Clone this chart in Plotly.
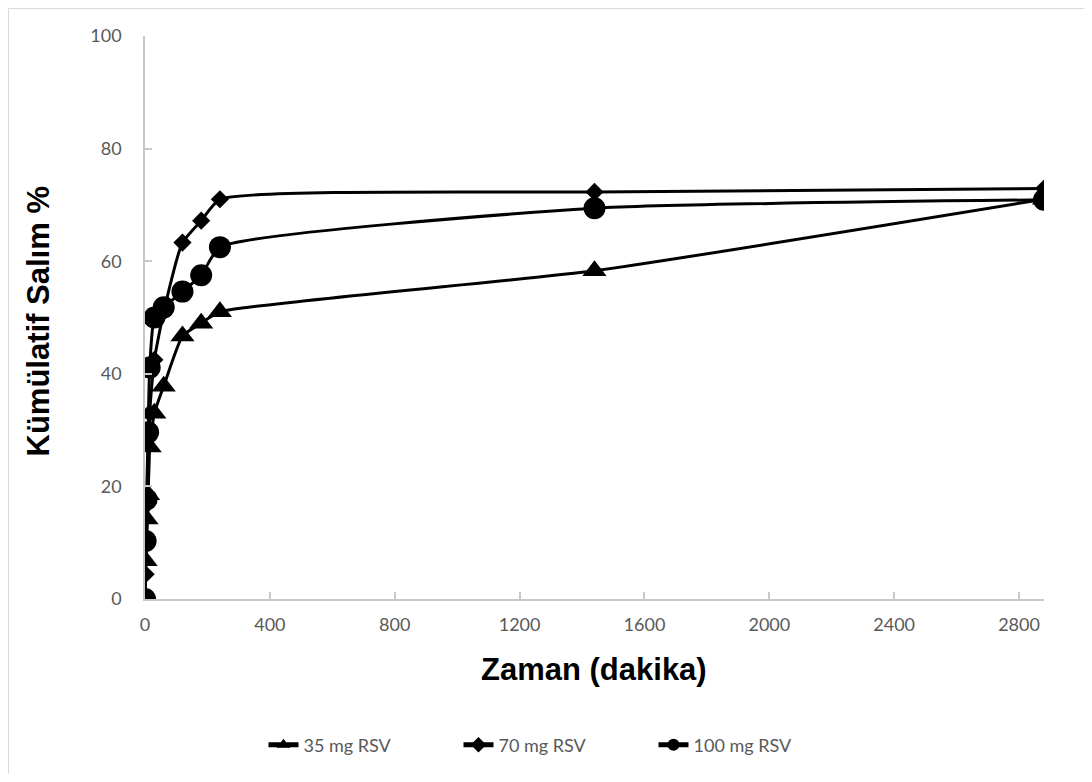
import plotly.graph_objects as go

# Time points (minutes)
time_min = [0, 2, 5, 10, 15, 30, 60, 120, 180, 240, 1440, 2880]

# Cumulative release %
rsv_35 = [0, 6.8, 14.2, 18.5, 27.0, 33.0, 37.8, 46.7, 49.0, 51.0, 58.3, 71.0]
rsv_70 = [0, 4.4, 10.0, 17.0, 33.0, 42.5, 51.0, 63.3, 67.2, 71.0, 72.3, 72.9]
rsv_100 = [0, 10.3, 17.7, 29.6, 41.1, 50.0, 51.8, 54.6, 57.5, 62.5, 69.4, 70.9]

series_names = ["35 mg RSV", "70 mg RSV", "100 mg RSV"]

x_ticks = [0, 400, 800, 1200, 1600, 2000, 2400, 2800]
y_ticks = [0, 20, 40, 60, 80, 100]

OFF = 8  # page body margin
W, H = 1092 - 2 * OFF, 782 - 2 * OFF
L, T = 145 - OFF, 36 - OFF
pw, ph = 899, 564
R, B = W - L - pw, H - T - ph

def px_x(p):
    return (p - OFF - L) / pw

def px_y(p):
    return (T + ph - (p - OFF)) / ph

fig = go.Figure()
styles = [("triangle-up", 21), ("diamond", 14), ("circle", 22)]
for name, vals, (sym, sz) in zip(series_names, [rsv_35, rsv_70, rsv_100], styles):
    fig.add_trace(go.Scatter(
        x=time_min, y=vals, name=name, mode="lines+markers",
        line=dict(color="black", width=3, shape="spline", smoothing=0.5),
        marker=dict(symbol=sym, size=sz, color="black"),
    ))

axis_common = dict(
    showgrid=False, zeroline=False, showline=True,
    linecolor="#c8c8c8", linewidth=1.5,
    ticks="inside", ticklen=7, tickcolor="#c8c8c8", tickwidth=1.5,
    tickfont=dict(family="Lato", size=18, color="#595959"),
)

fig.update_xaxes(range=[0, 2880], tickvals=x_ticks, ticklabelstandoff=9, **axis_common)
fig.update_yaxes(range=[0, 100], tickvals=y_ticks, ticklabelstandoff=18, **axis_common)

fig.add_annotation(
    text="Zaman (dakika)", xref="paper", yref="paper",
    x=px_x(594), y=px_y(671), xanchor="center", yanchor="middle",
    showarrow=False, font=dict(family="Liberation Sans", size=31, color="black", weight="bold"),
)
fig.add_annotation(
    text="Kümülatif Salım %", xref="paper", yref="paper",
    x=px_x(38), y=px_y(322), xanchor="center", yanchor="middle", textangle=-90,
    showarrow=False, font=dict(family="Liberation Sans", size=31, color="black", weight="bold"),
)

# chart-area border (only left and top edges are visible in the frame)
border = dict(color="#d9d9d9", width=1)
fig.add_shape(type="line", xref="paper", yref="paper",
              x0=px_x(8.5), x1=px_x(8.5), y0=px_y(790), y1=px_y(8.5), line=border, layer="below")
fig.add_shape(type="line", xref="paper", yref="paper",
              x0=px_x(8.5), x1=px_x(1100), y0=px_y(8.5), y1=px_y(8.5), line=border, layer="below")

fig.update_layout(
    width=W, height=H,
    margin=dict(l=L, r=R, t=T, b=B, pad=0),
    paper_bgcolor="white", plot_bgcolor="white",
    showlegend=True,
    legend=dict(
        orientation="h", x=px_x(556), y=px_y(745), xanchor="center", yanchor="middle",
        font=dict(family="Lato", size=18, color="#595959"),
        itemsizing="constant", bgcolor="rgba(0,0,0,0)",
        entrywidth=150, entrywidthmode="pixels",
    ),
)

fig.write_html("out.html")
